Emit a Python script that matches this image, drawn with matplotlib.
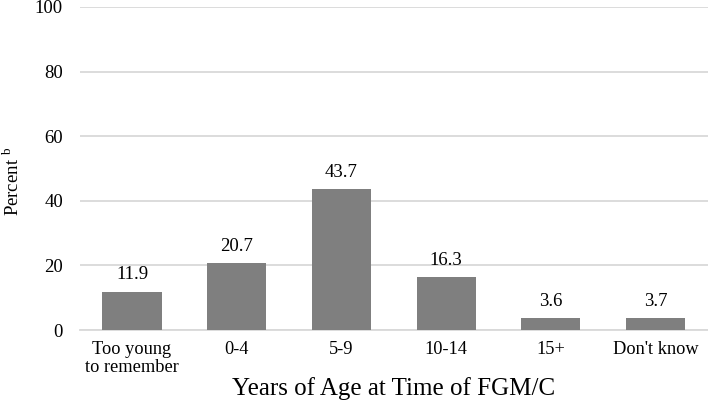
import matplotlib.pyplot as plt

# data
categories = ['Too young\nto remember', '0-4', '5-9', '10-14', '15+', "Don't know"]
percents = [11.9, 20.7, 43.7, 16.3, 3.6, 3.7]
yticks = [0, 20, 40, 60, 80, 100]

plt.rcParams['font.family'] = ['Liberation Serif', 'DejaVu Serif']
plt.rcParams['mathtext.fontset'] = 'custom'
plt.rcParams['mathtext.rm'] = 'Liberation Serif'

fig = plt.figure(figsize=(7.08, 4.07), dpi=100)
ax = fig.add_axes([0.1125, 0.189, 0.8875, 0.794])

x = range(len(categories))
ax.bar(x, percents, width=0.565, color='#7f7f7f', zorder=3)

for xi, v in zip(x, percents):
    ax.annotate(f'{v:.1f}', (xi, v), xytext=(0, 6), textcoords='offset points',
                ha='center', va='bottom', fontsize=13.5)

ax.set_xlim(-0.5, len(categories) - 0.5)
ax.set_ylim(0, 100)
ax.set_yticks(yticks)
ax.set_xticks(list(x))
ax.set_xticklabels(categories, fontsize=13.2, linespacing=1.05)
ax.tick_params(axis='y', labelsize=13.5, length=0, pad=12)
ax.tick_params(axis='x', length=0, pad=8)

ax.grid(axis='y', color='#d9d9d9', linewidth=1.3, zorder=0)
for s in ['top', 'right', 'left']:
    ax.spines[s].set_visible(False)
ax.spines['bottom'].set_color('#d9d9d9')
ax.spines['bottom'].set_linewidth(1.3)

ax.set_ylabel('Percent $^{\\mathrm{b}}$', fontsize=13.5)
ax.yaxis.set_label_coords(-0.09, 0.46)
ax.set_xlabel('Years of Age at Time of FGM/C', fontsize=18, labelpad=1)

fig.savefig('out.png', dpi=100)
